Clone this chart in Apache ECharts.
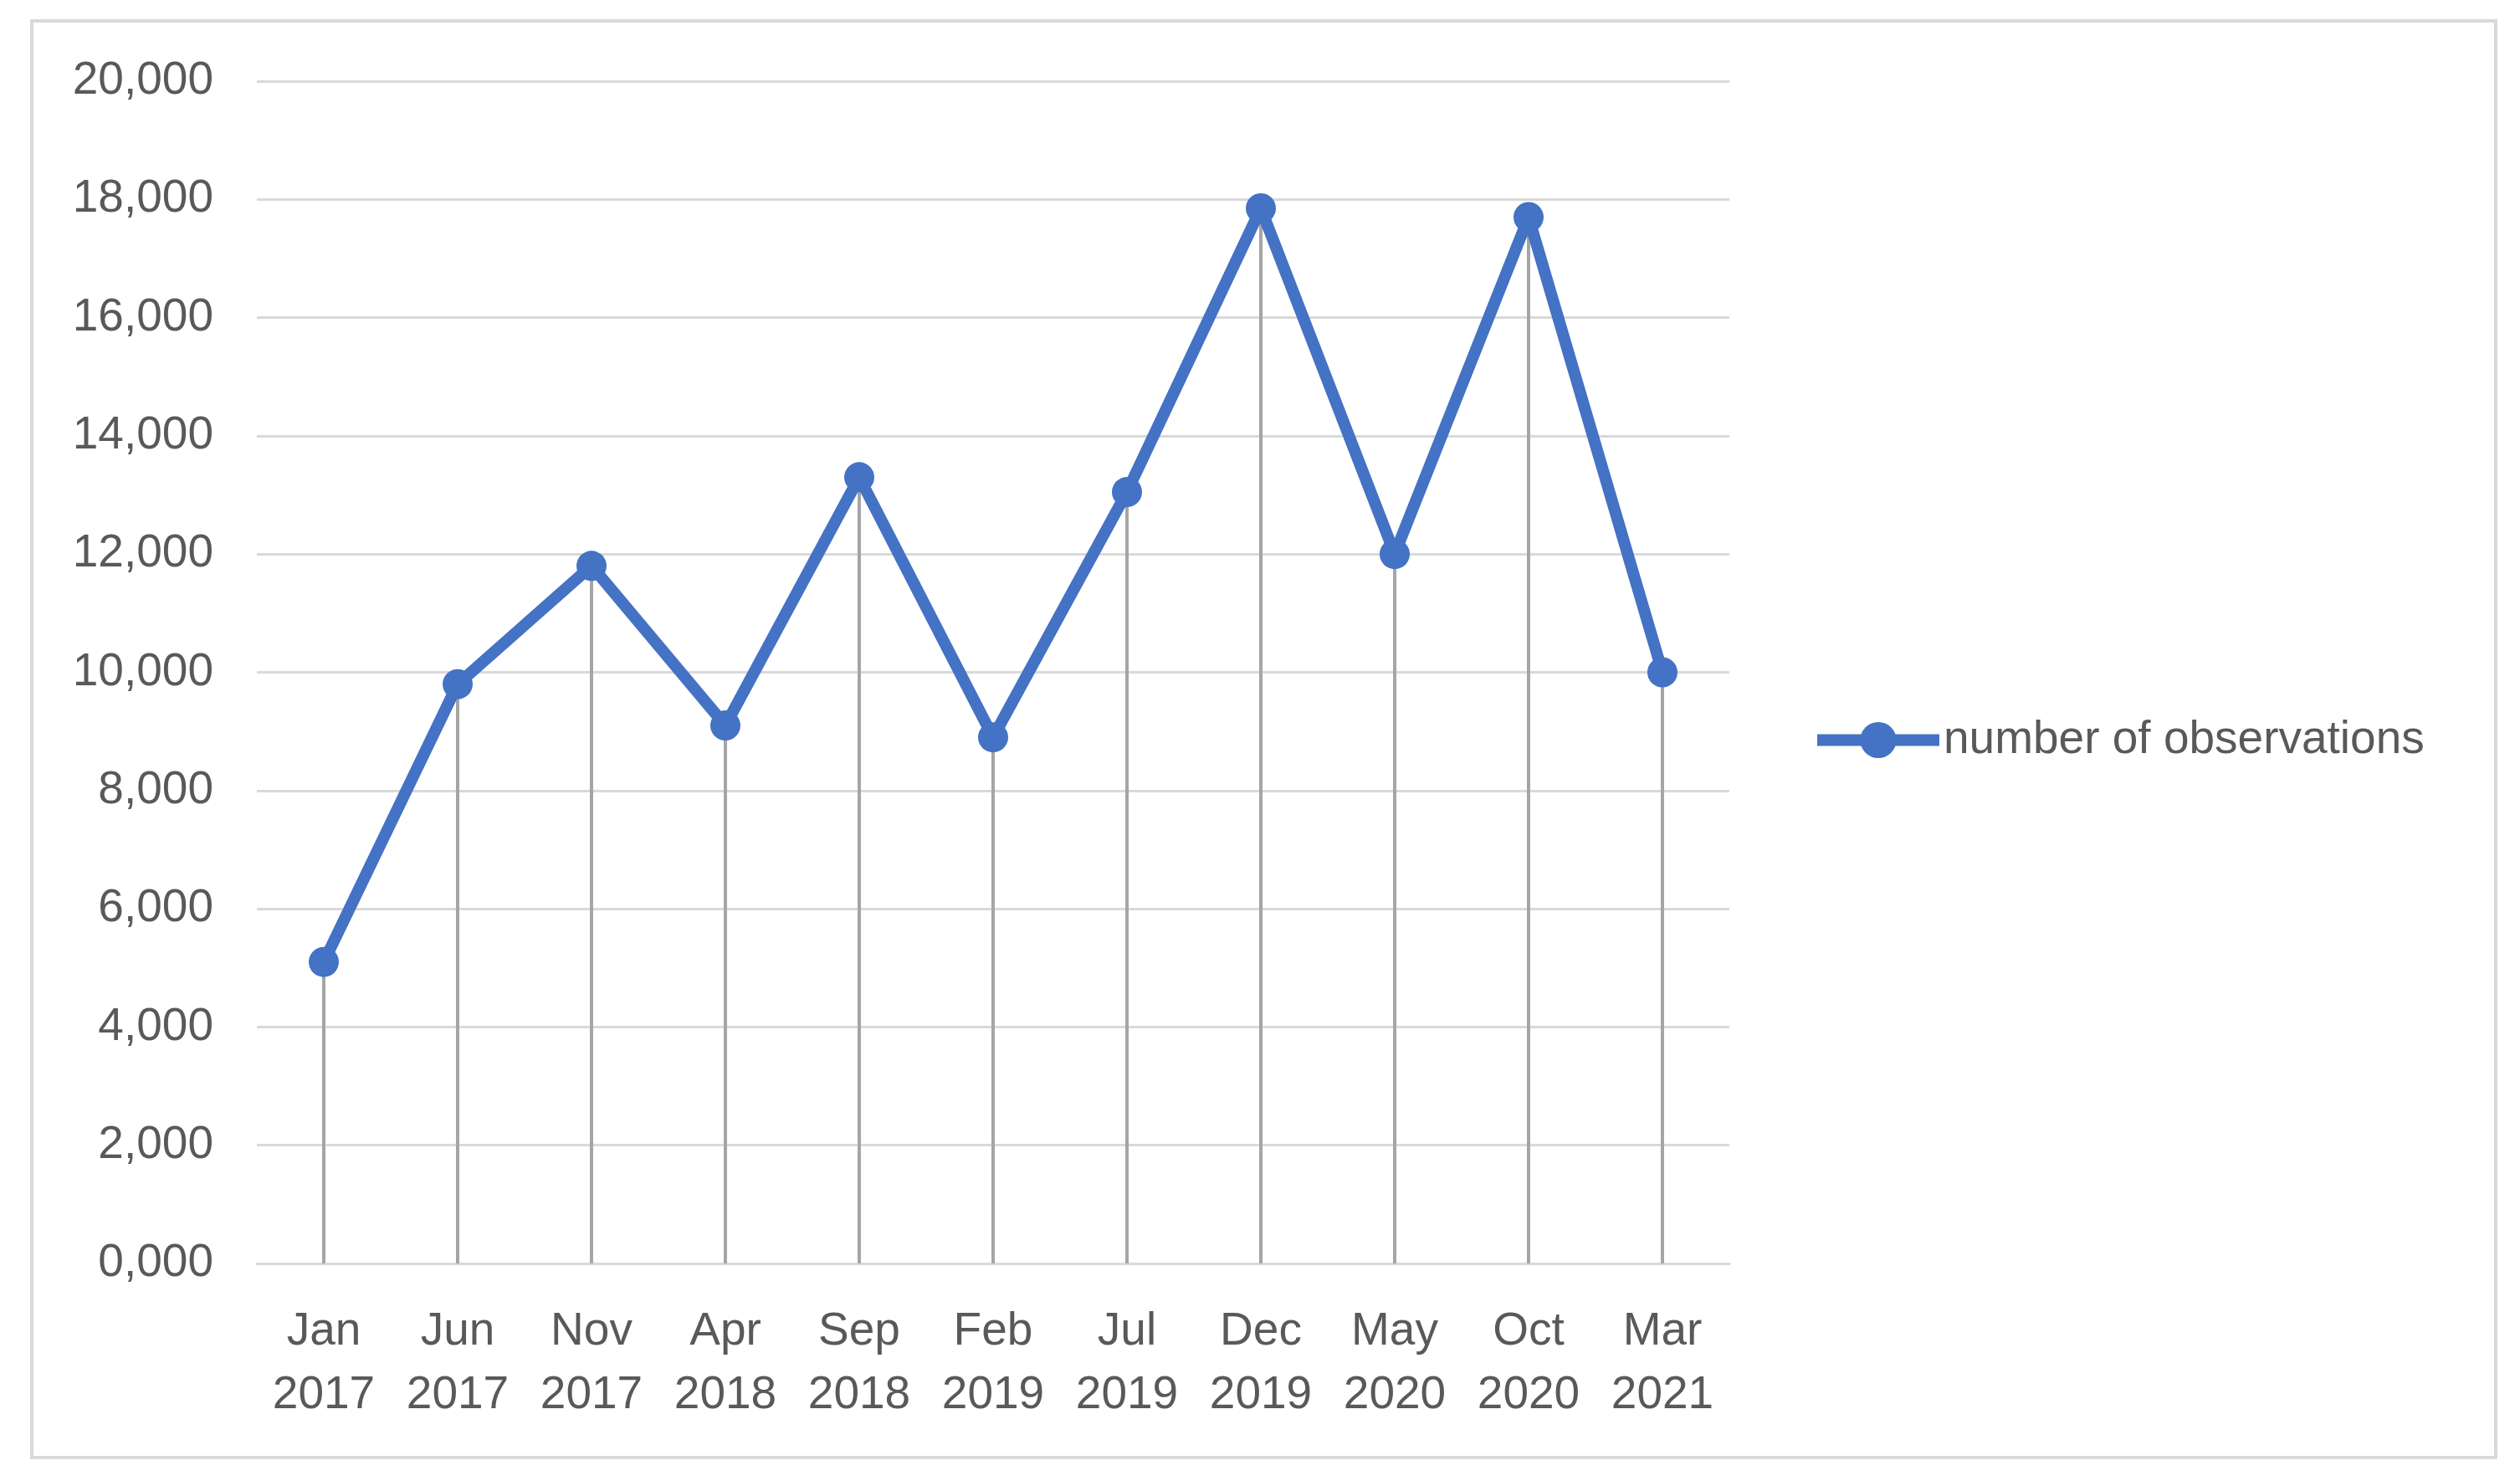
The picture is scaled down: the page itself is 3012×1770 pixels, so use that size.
<!DOCTYPE html>
<html>
<head>
<meta charset="utf-8">
<script src="https://cdn.jsdelivr.net/npm/echarts@6/dist/echarts.min.js"></script>
<style>
html,body{margin:0;padding:0;background:#fff;}
#chart{width:3012px;height:1770px;}
</style>
</head>
<body>
<div id="chart"></div>
<script>
const categories = ['Jan\n2017','Jun\n2017','Nov\n2017','Apr\n2018','Sep\n2018','Feb\n2019','Jul\n2019','Dec\n2019','May\n2020','Oct\n2020','Mar\n2021'];
const observations = [5100, 9800, 11800, 9100, 13300, 8900, 13050, 17850, 12000, 17700, 10000];
const yTickLabels = ['0,000','2,000','4,000','6,000','8,000','10,000','12,000','14,000','16,000','18,000','20,000'];
const seriesName = 'number of observations';

const chart = echarts.init(document.getElementById('chart'));
const textColor = '#595959';
const font = 'Liberation Sans';
chart.setOption({
  backgroundColor: '#ffffff',
  animation: false,
  graphic: [{
    type: 'rect',
    shape: {x: 38, y: 25, width: 2945, height: 1717},
    style: {fill: 'none', stroke: '#D9D9D9', lineWidth: 4},
    silent: true
  }],
  grid: {left: 307, right: 945, top: 97, bottom: 260},
  legend: {
    data: [seriesName],
    left: 2160,
    top: 852,
    itemWidth: 146,
    itemHeight: 54,
    lineStyle: {width: 14, color: '#4472C4'},
    itemStyle: {color: '#4472C4'},
    textStyle: {fontFamily: font, fontSize: 55, color: textColor}
  },
  xAxis: {
    type: 'category',
    data: categories,
    boundaryGap: true,
    axisLine: {lineStyle: {color: '#D9D9D9', width: 3}},
    axisTick: {show: false},
    axisLabel: {fontFamily: font, fontSize: 55, color: textColor, lineHeight: 76, margin: 44, interval: 0}
  },
  yAxis: {
    type: 'value',
    min: 0, max: 20000, interval: 2000,
    axisLine: {show: false},
    axisTick: {show: false},
    splitLine: {lineStyle: {color: '#D9D9D9', width: 3}},
    axisLabel: {
      fontFamily: font, fontSize: 55, color: textColor, margin: 52,
      formatter: v => yTickLabels[Math.round(v / 2000)]
    }
  },
  series: [
    {
      name: 'drop',
      type: 'bar',
      data: observations,
      barWidth: 4,
      itemStyle: {color: '#A5A5A5'},
      z: 1,
      silent: true
    },
    {
      name: seriesName,
      type: 'line',
      data: observations,
      symbol: 'circle',
      symbolSize: 36,
      lineStyle: {color: '#4472C4', width: 14},
      itemStyle: {color: '#4472C4'},
      z: 3
    }
  ]
});
</script>
</body>
</html>
